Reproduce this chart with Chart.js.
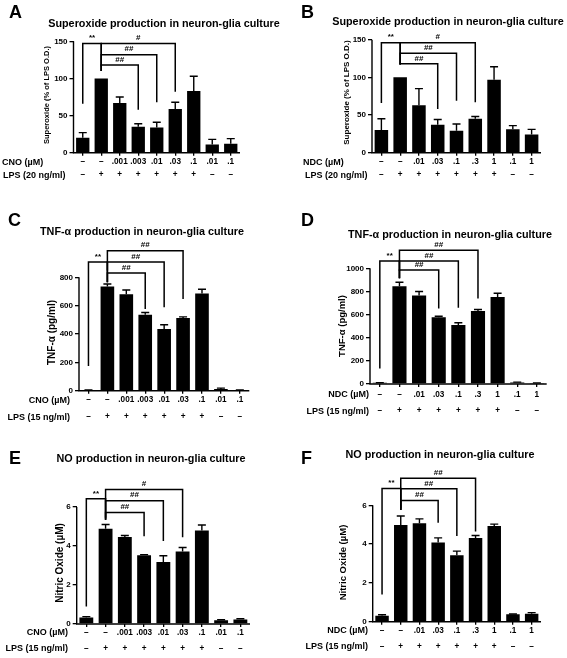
<!DOCTYPE html>
<html>
<head>
<meta charset="utf-8">
<script src="https://cdn.jsdelivr.net/npm/chart.js@4.4.1/dist/chart.umd.min.js"></script>
<style>
html, body { margin: 0; padding: 0; background: #fff; }
#wrap { position: relative; width: 567px; height: 658px; }
#wrap canvas { position: absolute; left: 0; top: 0; }
</style>
</head>
<body>
<div id="wrap">
  <canvas id="cA" width="567" height="658"></canvas>
  <canvas id="cB" width="567" height="658"></canvas>
  <canvas id="cC" width="567" height="658"></canvas>
  <canvas id="cD" width="567" height="658"></canvas>
  <canvas id="cE" width="567" height="658"></canvas>
  <canvas id="cF" width="567" height="658"></canvas>
</div>
<script>
// x rows
var cnoDoses = ['–', '–', '.001', '.003', '.01', '.03', '.1', '.01', '.1'];
var ndcDoses = ['–', '–', '.01', '.03', '.1', '.3', '1', '.1', '1'];
var lpsRow   = ['–', '+', '+', '+', '+', '+', '+', '–', '–'];

// superoxide (% of LPS O.D.)
var superoxideCno    = [20, 100, 67, 35, 34, 59, 83, 11, 12];
var superoxideCnoErr = [7, 0, 8, 4, 7, 9, 20, 7, 7];
var superoxideNdc    = [30, 100, 63, 37, 29, 45, 97, 31, 24];
var superoxideNdcErr = [15, 0, 22, 7, 9, 3, 17, 5, 7];

// TNF-a (pg/ml)
var tnfCno    = [5, 735, 680, 535, 435, 512, 686, 12, 5];
var tnfCnoErr = [1, 18, 30, 17, 30, 9, 30, 6, 1];
var tnfNdc    = [10, 845, 765, 578, 510, 632, 752, 12, 8];
var tnfNdcErr = [2, 35, 35, 8, 20, 12, 33, 4, 2];

// nitric oxide (uM)
var noCno    = [0.33, 4.88, 4.46, 3.52, 3.18, 3.72, 4.8, 0.19, 0.23];
var noCnoErr = [0.05, 0.22, 0.08, 0.04, 0.32, 0.2, 0.28, 0.03, 0.04];
var noNdc    = [0.31, 4.98, 5.08, 4.08, 3.43, 4.32, 4.93, 0.38, 0.41];
var noNdcErr = [0.05, 0.47, 0.22, 0.24, 0.21, 0.12, 0.1, 0.02, 0.06];

// significance brackets: bar index from/to, top, leg ends (data units)
var sigA = [
  {from: 0, to: 1, top: 147, leftEnd: 66, rightEnd: 116, mark: '**'},
  {from: 1, to: 3, top: 118, leftEnd: 110, rightEnd: 58, mark: '##'},
  {from: 1, to: 4, top: 132, leftEnd: 110, rightEnd: 68, mark: '##'},
  {from: 1, to: 5, top: 147, leftEnd: 110, rightEnd: 82, mark: '#'}
];
var sigB = [
  {from: 0, to: 1, top: 146, leftEnd: 66, rightEnd: 117, mark: '**'},
  {from: 1, to: 3, top: 118, leftEnd: 117, rightEnd: 58, mark: '##'},
  {from: 1, to: 4, top: 132, leftEnd: 117, rightEnd: 69, mark: '##'},
  {from: 1, to: 5, top: 146, leftEnd: 117, rightEnd: 67, mark: '#'}
];
var sigC = [
  {from: 0, to: 1, top: 908, leftEnd: 175, rightEnd: 848, mark: '**'},
  {from: 1, to: 3, top: 830, leftEnd: 765, rightEnd: 576, mark: '##'},
  {from: 1, to: 4, top: 908, leftEnd: 765, rightEnd: 588, mark: '##'},
  {from: 1, to: 5, top: 988, leftEnd: 765, rightEnd: 647, mark: '##'}
];
var sigD = [
  {from: 0, to: 1, top: 1063, leftEnd: 133, rightEnd: 977, mark: '**'},
  {from: 1, to: 3, top: 985, leftEnd: 913, rightEnd: 653, mark: '##'},
  {from: 1, to: 4, top: 1063, leftEnd: 913, rightEnd: 660, mark: '##'},
  {from: 1, to: 5, top: 1155, leftEnd: 913, rightEnd: 738, mark: '##'}
];
var sigE = [
  {from: 0, to: 1, top: 6.42, leftEnd: 0.9, rightEnd: 5.45, mark: '**'},
  {from: 1, to: 3, top: 5.72, leftEnd: 5.35, rightEnd: 4.5, mark: '##'},
  {from: 1, to: 4, top: 6.32, leftEnd: 5.35, rightEnd: 4.26, mark: '##'},
  {from: 1, to: 5, top: 6.9, leftEnd: 5.35, rightEnd: 4.45, mark: '#'}
];
var sigF = [
  {from: 0, to: 1, top: 6.87, leftEnd: 1.4, rightEnd: 5.84, mark: '**'},
  {from: 1, to: 3, top: 6.25, leftEnd: 5.76, rightEnd: 5.1, mark: '##'},
  {from: 1, to: 4, top: 6.85, leftEnd: 5.76, rightEnd: 4.42, mark: '##'},
  {from: 1, to: 5, top: 7.4, leftEnd: 5.76, rightEnd: 4.65, mark: '##'}
];

var FONT = "'Liberation Sans', Arial, Helvetica, sans-serif";

var panels = [
  {canvas: 'cA', letter: 'A', letterX: 9, letterY: 18,
   title: 'Superoxide production in neuron-glia culture', titleX: 164, titleY: 24,
   yTitle: 'Superoxide (% of LPS O.D.)', yTitleX: 47, yTitleY: 95, yTitleSize: 7.5,
   doses: cnoDoses, rowNames: ['CNO (µM)', 'LPS (20 ng/ml)'], rowAlign: 'left', rowX: [2, 3],
   rowGap: 13, tickPad: 0,
   values: superoxideCno, errors: superoxideCnoErr, sig: sigA,
   left: 73.5, right: 240, zeroY: 152.7, topTickY: 41.3, axisTop: 150, yMax: 150, step: 50},
  {canvas: 'cB', letter: 'B', letterX: 301, letterY: 18,
   title: 'Superoxide production in neuron-glia culture', titleX: 448, titleY: 22,
   yTitle: 'Superoxide (% of LPS O.D.)', yTitleX: 346.5, yTitleY: 92.5, yTitleSize: 8,
   doses: ndcDoses, rowNames: ['NDC (µM)', 'LPS (20 ng/ml)'], rowAlign: 'left', rowX: [303, 305],
   rowGap: 13, tickPad: 0,
   values: superoxideNdc, errors: superoxideNdcErr, sig: sigB,
   left: 372, right: 541, zeroY: 152.7, topTickY: 39.7, axisTop: 150, yMax: 150, step: 50},
  {canvas: 'cC', letter: 'C', letterX: 8, letterY: 226,
   title: 'TNF-α production in neuron-glia culture', titleX: 142, titleY: 232,
   yTitle: 'TNF-α (pg/ml)', yTitleX: 52, yTitleY: 332.5, yTitleSize: 10,
   doses: cnoDoses, rowNames: ['CNO (µM)', 'LPS (15 ng/ml)'], rowAlign: 'right', rowX: [70, 70],
   rowGap: 17, tickPad: -2,
   values: tnfCno, errors: tnfCnoErr, sig: sigC,
   left: 79, right: 249.3, zeroY: 390.7, topTickY: 277.3, axisTop: 800, yMax: 1000, step: 200},
  {canvas: 'cD', letter: 'D', letterX: 301, letterY: 226,
   title: 'TNF-α production in neuron-glia culture', titleX: 450, titleY: 235,
   yTitle: 'TNF-α (pg/ml)', yTitleX: 342, yTitleY: 326, yTitleSize: 9.5,
   doses: ndcDoses, rowNames: ['NDC (µM)', 'LPS (15 ng/ml)'], rowAlign: 'right', rowX: [369, 369],
   rowGap: 16.7, tickPad: -1,
   values: tnfNdc, errors: tnfNdcErr, sig: sigD,
   left: 370, right: 546.7, zeroY: 384, topTickY: 268.3, axisTop: 1000, yMax: 1200, step: 200},
  {canvas: 'cE', letter: 'E', letterX: 9, letterY: 464,
   title: 'NO production in neuron-glia culture', titleX: 151, titleY: 459,
   yTitle: 'Nitric Oxide (µM)', yTitleX: 60, yTitleY: 563, yTitleSize: 10,
   doses: cnoDoses, rowNames: ['CNO (µM)', 'LPS (15 ng/ml)'], rowAlign: 'right', rowX: [68, 68],
   rowGap: 16, tickPad: -2,
   values: noCno, errors: noCnoErr, sig: sigE,
   left: 76.7, right: 250, zeroY: 624, topTickY: 507, axisTop: 6, yMax: 7, step: 2},
  {canvas: 'cF', letter: 'F', letterX: 301, letterY: 464,
   title: 'NO production in neuron-glia culture', titleX: 440, titleY: 455,
   yTitle: 'Nitric Oxide (µM)', yTitleX: 343, yTitleY: 562.5, yTitleSize: 9.5,
   doses: ndcDoses, rowNames: ['NDC (µM)', 'LPS (15 ng/ml)'], rowAlign: 'right', rowX: [368, 368],
   rowGap: 16, tickPad: -2,
   values: noNdc, errors: noNdcErr, sig: sigF,
   left: 372.7, right: 541, zeroY: 621.7, topTickY: 505.3, axisTop: 6, yMax: 8, step: 2}
];

var Y_W = 40, X_H = 30, TICK_X = 3;

function panelPlugin(p) {
  return {
    id: 'panel' + p.letter,
    afterDraw: function(chart) {
      var ctx = chart.ctx;
      var xs = chart.scales.x, ys = chart.scales.y;
      var area = chart.chartArea;
      var meta = chart.getDatasetMeta(0);
      ctx.save();
      ctx.strokeStyle = '#000';
      ctx.fillStyle = '#000';
      ctx.lineWidth = 1.4;

      // axis lines
      ctx.beginPath();
      ctx.moveTo(area.left, ys.getPixelForValue(p.axisTop));
      ctx.lineTo(area.left, area.bottom);
      ctx.lineTo(area.right, area.bottom);
      ctx.stroke();

      // error bars (upper only)
      p.values.forEach(function(v, i) {
        var e = p.errors[i];
        if (!e) return;
        var bx = meta.data[i].x;
        var y0 = ys.getPixelForValue(v), y1 = ys.getPixelForValue(v + e);
        ctx.beginPath();
        ctx.moveTo(bx, y0); ctx.lineTo(bx, y1);
        ctx.moveTo(bx - 4, y1); ctx.lineTo(bx + 4, y1);
        ctx.stroke();
      });

      // brackets
      ctx.lineWidth = 1.5;
      ctx.font = 'bold 8px ' + FONT;
      ctx.textAlign = 'center';
      ctx.textBaseline = 'bottom';
      p.sig.forEach(function(s) {
        var xa = xs.getPixelForValue(s.from), xb = xs.getPixelForValue(s.to);
        var yt = ys.getPixelForValue(s.top);
        ctx.beginPath();
        ctx.moveTo(xa, ys.getPixelForValue(s.leftEnd));
        ctx.lineTo(xa, yt);
        ctx.lineTo(xb, yt);
        ctx.lineTo(xb, ys.getPixelForValue(s.rightEnd));
        ctx.stroke();
        ctx.fillText(s.mark, (xa + xb) / 2, yt - 1.5);
      });

      // row labels beside the tick rows
      ctx.font = 'bold 9px ' + FONT;
      ctx.textBaseline = 'middle';
      ctx.textAlign = p.rowAlign;
      var y0 = xs.top + TICK_X + p.tickPad + p.rowGap / 2;
      p.rowNames.forEach(function(name, k) {
        ctx.fillText(name, p.rowX[k], y0 + k * p.rowGap);
      });

      // title and panel letter
      ctx.textAlign = 'center';
      ctx.font = 'bold 10.8px ' + FONT;
      ctx.fillText(p.title, p.titleX, p.titleY);
      ctx.textAlign = 'left';
      ctx.textBaseline = 'alphabetic';
      ctx.font = 'bold 18px ' + FONT;
      ctx.fillText(p.letter, p.letterX, p.letterY);

      // y title
      ctx.translate(p.yTitleX, p.yTitleY);
      ctx.rotate(-Math.PI / 2);
      ctx.textAlign = 'center';
      ctx.textBaseline = 'middle';
      ctx.font = 'bold ' + p.yTitleSize + 'px ' + FONT;
      ctx.fillText(p.yTitle, 0, 0);
      ctx.restore();
    }
  };
}

panels.forEach(function(p) {
  var ppu = (p.zeroY - p.topTickY) / p.axisTop;
  var areaTop = p.zeroY - p.yMax * ppu;
  var ctx = document.getElementById(p.canvas).getContext('2d');
  new Chart(ctx, {
    type: 'bar',
    data: {
      labels: p.doses.map(function(d, i) { return [d, lpsRow[i]]; }),
      datasets: [{
        data: p.values,
        backgroundColor: '#000',
        borderWidth: 0,
        barPercentage: 0.72,
        categoryPercentage: 1
      }]
    },
    options: {
      responsive: false,
      animation: false,
      events: [],
      layout: {
        padding: {
          left: p.left - Y_W,
          right: 567 - p.right,
          top: areaTop,
          bottom: 658 - p.zeroY - X_H
        }
      },
      plugins: {
        legend: {display: false},
        tooltip: {enabled: false},
        title: {display: false}
      },
      scales: {
        x: {
          offset: true,
          afterFit: function(s) { s.height = X_H; },
          border: {display: false},
          grid: {offset: false, drawOnChartArea: false, color: '#000', lineWidth: 1.3, tickLength: TICK_X},
          ticks: {
            color: '#000',
            autoSkip: false,
            maxRotation: 0,
            padding: p.tickPad,
            font: {family: FONT, size: 8.2, weight: 'bold', lineHeight: p.rowGap / 8.2}
          }
        },
        y: {
          min: 0,
          max: p.yMax,
          afterFit: function(s) { s.width = Y_W; },
          afterBuildTicks: function(s) {
            s.ticks = s.ticks.filter(function(t) { return t.value <= p.axisTop; });
          },
          border: {display: false},
          grid: {drawOnChartArea: false, color: '#000', lineWidth: 1.3, tickLength: 4},
          ticks: {
            stepSize: p.step,
            color: '#000',
            padding: 2,
            font: {family: FONT, size: 8, weight: 'bold'},
            callback: function(v) { return String(v); }
          }
        }
      }
    },
    plugins: [panelPlugin(p)]
  });
});
</script>
</body>
</html>
